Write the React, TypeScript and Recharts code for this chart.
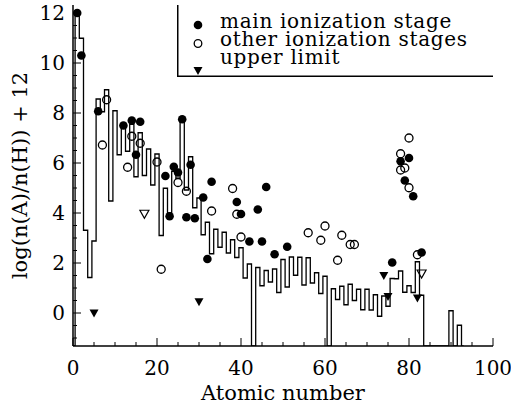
import React from "react";
import { ComposedChart, Line, Scatter, XAxis, YAxis, Legend } from "recharts";

const FONT = '"DejaVu Serif", "Liberation Serif", serif';

// solar system abundances for Z = 1..92, null where there is no value
const SOLAR_LOG = [
  12.0, 10.99, 3.31, 1.42, 2.88, 8.56, 8.05, 8.93, 4.48, 8.09,
  6.33, 7.58, 6.47, 7.55, 5.45, 7.21, 5.5, 6.56, 5.12, 6.36,
  3.1, 4.99, 4.0, 5.67, 5.39, 7.67, 4.92, 6.25, 4.21, 4.6,
  3.13, 3.63, 2.37, 3.35, 2.63, 3.23, 2.4, 2.93, 2.22, 2.61,
  1.4, 1.96, null, 1.82, 1.09, 1.7, 1.24, 1.76, 0.82, 2.14,
  1.04, 2.24, 1.51, 2.23, 1.12, 2.21, 1.2, 1.61, 0.78, 1.47,
  null, 0.97, 0.54, 1.07, 0.33, 1.15, 0.5, 0.95, 0.13, 0.95,
  0.12, 0.73, -0.13, 0.68, 0.27, 1.38, 1.37, 1.68, 0.83, 1.09,
  0.82, 2.05, 0.71, null, null, null, null, null, null, 0.09,
  null, -0.49,
];

// main ionization stage
const MAIN_Z = [1, 2, 6, 12, 14, 15, 16, 22, 23, 24, 25, 26, 27, 28, 29, 31, 32, 33, 39, 40, 42, 44, 45, 46, 48, 51, 76, 78, 79, 80, 81, 83];
const MAIN_LOG = [12.0, 10.3, 8.07, 7.5, 7.7, 6.33, 7.65, 5.48, 3.87, 5.85, 5.62, 7.75, 3.83, 5.93, 3.79, 4.62, 2.16, 5.25, 4.44, 3.96, 2.86, 4.14, 2.86, 5.04, 2.35, 2.65, 2.02, 6.07, 5.3, 6.2, 4.67, 2.42];

// other ionization stages
const OTHER_Z = [7, 8, 13, 14, 16, 20, 21, 25, 27, 33, 38, 39, 40, 56, 59, 60, 63, 64, 66, 67, 78, 78, 79, 80, 80, 82];
const OTHER_LOG = [6.72, 8.53, 5.83, 7.07, 6.79, 6.04, 1.75, 5.22, 4.87, 4.08, 4.98, 3.95, 3.04, 3.21, 2.91, 3.48, 2.11, 3.11, 2.74, 2.74, 6.37, 5.72, 5.8, 7.0, 5.01, 2.33];

// upper limits (filled = main stage, open = other stage)
const LIMIT_Z = [5, 30, 74, 75, 82];
const LIMIT_LOG = [0.0, 0.45, 1.5, 0.66, 0.6];
const LIMIT_OTHER_Z = [17, 83];
const LIMIT_OTHER_LOG = [3.97, 1.58];

const LEGEND_LABELS = ["main ionization stage", "other ionization stages", "upper limit"];
const X_LABELS = [0, 20, 40, 60, 80, 100];
const Y_LABELS = [0, 2, 4, 6, 8, 10, 12];

const Y_MIN = -1.32;
const Y_MAX = 12.32;
const X_TICKS = Array.from({ length: 21 }, (_, i) => i * 5);
const Y_TICKS = Array.from({ length: 27 }, (_, i) => -1 + i * 0.5);

// histogram outline, closed to the floor at both ends
const histData = [
  { x: 0, y: Y_MIN },
  ...SOLAR_LOG.map((v, i) => ({ x: i + 1, y: v == null ? Y_MIN : v })),
  { x: SOLAR_LOG.length + 1, y: Y_MIN },
];
const pts = (zs: number[], vs: number[]) => zs.map((z, i) => ({ x: z, y: vs[i] }));

const FilledDot = (p: any) => <circle cx={p.cx} cy={p.cy} r={4.3} fill="#000" />;
const OpenDot = (p: any) => <circle cx={p.cx} cy={p.cy} r={4} fill="none" stroke="#000" strokeWidth={1.3} />;
const tri = (cx: number, cy: number) => `M${cx - 4.5},${cy - 3.5} L${cx + 4.5},${cy - 3.5} L${cx},${cy + 4.5} Z`;
const FilledTri = (p: any) => <path d={tri(p.cx, p.cy)} fill="#000" />;
const OpenTri = (p: any) => <path d={tri(p.cx, p.cy)} fill="none" stroke="#000" strokeWidth={1.2} />;

const LeftTick = ({ x, y, payload }: any) => {
  const major = Y_LABELS.includes(payload.value);
  return (
    <g>
      <line x1={x} x2={x + (major ? 8 : 4)} y1={y} y2={y} stroke="#000" />
      {major && (
        <text x={x - 8} y={y} dy="0.36em" textAnchor="end" fontSize={20} fontFamily={FONT} fill="#000">
          {payload.value}
        </text>
      )}
    </g>
  );
};
const RightTick = ({ x, y, payload }: any) => {
  const major = Y_LABELS.includes(payload.value);
  return <line x1={x} x2={x - (major ? 8 : 4)} y1={y} y2={y} stroke="#000" />;
};
const BottomTick = ({ x, y, payload }: any) => {
  const major = X_LABELS.includes(payload.value);
  return (
    <g>
      <line x1={x} x2={x} y1={y} y2={y - (major ? 8 : 4)} stroke="#000" />
      {major && (
        <text x={x} y={y + 22} dy="0.36em" textAnchor="middle" fontSize={20} fontFamily={FONT} fill="#000">
          {payload.value}
        </text>
      )}
    </g>
  );
};
const TopTick = ({ x, y, payload }: any) => {
  const major = X_LABELS.includes(payload.value);
  return <line x1={x} x2={x} y1={y} y2={y + (major ? 8 : 4)} stroke="#000" />;
};

const LegendBox = () => (
  <svg width={316} height={72} style={{ display: "block", overflow: "visible" }}>
    <path d="M0.75,0 L0.75,71.25 L316,71.25" fill="none" stroke="#000" strokeWidth={1.5} />
    <circle cx={21} cy={20} r={4.3} fill="#000" />
    <circle cx={21} cy={38.5} r={3.8} fill="none" stroke="#000" strokeWidth={1.3} />
    <path d={tri(21, 65.5)} fill="#000" />
    {LEGEND_LABELS.map((t, i) => (
      <text key={t} x={43} y={22.5 + i * 18.3} fontSize={20} letterSpacing={0.7} fontFamily={FONT} fill="#000">
        {t}
      </text>
    ))}
  </svg>
);

export default function App() {
  return (
    <div style={{ width: 511, height: 405, position: "relative", background: "#fff" }}>
      <style>{"body{margin:0}"}</style>
      <ComposedChart width={511} height={405} margin={{ top: 5, right: 18, bottom: 0, left: 0 }}>
        <XAxis
          dataKey="x"
          type="number"
          domain={[0, 100]}
          allowDataOverflow
          ticks={X_TICKS}
          interval={0}
          height={59}
          tickSize={0}
          tickMargin={0}
          tickLine={false}
          tick={<BottomTick />}
          axisLine={{ stroke: "#000", strokeWidth: 1.5 }}
          label={{ value: "Atomic number", position: "insideBottom", offset: 5, fontSize: 21, fontFamily: FONT, fill: "#000" }}
        />
        <XAxis
          xAxisId="top"
          orientation="top"
          type="number"
          domain={[0, 100]}
          allowDataOverflow
          ticks={X_TICKS}
          interval={0}
          height={0}
          tickSize={0}
          tickMargin={0}
          tickLine={false}
          tick={<TopTick />}
          axisLine={{ stroke: "#000", strokeWidth: 1.5 }}
        />
        <YAxis
          type="number"
          domain={[Y_MIN, Y_MAX]}
          allowDataOverflow
          ticks={Y_TICKS}
          interval={0}
          width={73}
          tickSize={0}
          tickMargin={0}
          tickLine={false}
          tick={<LeftTick />}
          axisLine={{ stroke: "#000", strokeWidth: 1.5 }}
          label={{
            value: "log(n(A)/n(H)) + 12",
            angle: -90,
            position: "insideLeft",
            offset: 20,
            fontSize: 21,
            fontFamily: FONT,
            fill: "#000",
            style: { textAnchor: "middle" },
          }}
        />
        <YAxis
          yAxisId="right"
          orientation="right"
          type="number"
          domain={[Y_MIN, Y_MAX]}
          allowDataOverflow
          ticks={Y_TICKS}
          interval={0}
          width={0}
          tickSize={0}
          tickMargin={0}
          tickLine={false}
          tick={<RightTick />}
          axisLine={{ stroke: "#000", strokeWidth: 1.5 }}
        />
        <Line data={histData} dataKey="y" type="step" stroke="#000" strokeWidth={1.3} dot={false} isAnimationActive={false} />
        <Scatter data={pts(MAIN_Z, MAIN_LOG)} dataKey="y" shape={FilledDot} isAnimationActive={false} />
        <Scatter data={pts(OTHER_Z, OTHER_LOG)} dataKey="y" shape={OpenDot} isAnimationActive={false} />
        <Scatter data={pts(LIMIT_Z, LIMIT_LOG)} dataKey="y" shape={FilledTri} isAnimationActive={false} />
        <Scatter data={pts(LIMIT_OTHER_Z, LIMIT_OTHER_LOG)} dataKey="y" shape={OpenTri} isAnimationActive={false} />
        <Legend
          layout="horizontal"
          verticalAlign="middle"
          align="center"
          content={() => <LegendBox />}
          wrapperStyle={{ left: 177, top: 5, width: 316, height: 72 }}
        />
      </ComposedChart>
    </div>
  );
}
